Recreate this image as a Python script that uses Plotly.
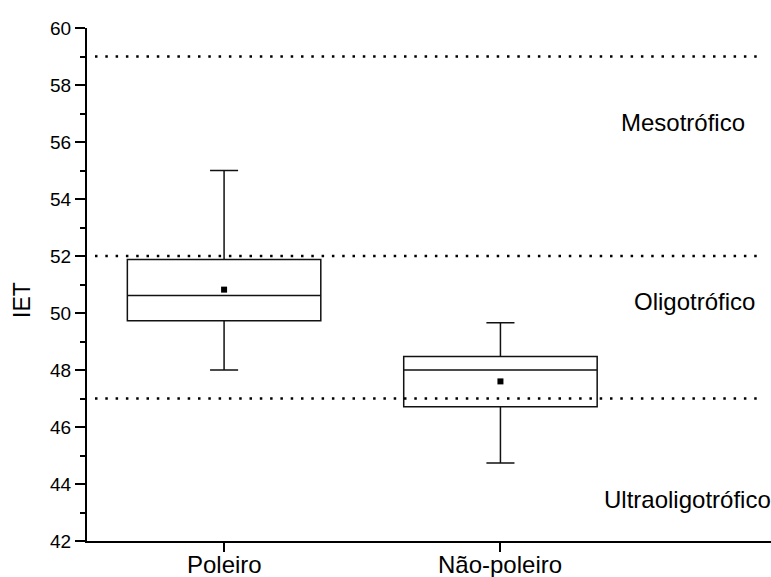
import plotly.graph_objects as go

# Box statistics of IET per site type
categories = ["Poleiro", "Não-poleiro"]
q1 = [49.73, 46.71]
median = [50.61, 48.00]
q3 = [51.88, 48.47]
lower_whisker = [48.00, 44.74]
upper_whisker = [55.00, 49.66]
means = [50.82, 47.60]

# Trophic state class limits and their names
class_limits = [59, 52, 47]
class_names = ["Mesotrófico", "Oligotrófico", "Ultraoligotrófico"]

y_ticks = [42, 44, 46, 48, 50, 52, 54, 56, 58, 60]

FONT = "Arial, Liberation Sans, sans-serif"

fig = go.Figure()

fig.add_trace(go.Box(
    x=categories,
    q1=q1,
    median=median,
    q3=q3,
    lowerfence=lower_whisker,
    upperfence=upper_whisker,
    width=0.7,
    whiskerwidth=0.145,
    boxpoints=False,
    fillcolor="rgba(0,0,0,0)",
    line=dict(color="#111111", width=1.5),
    hoverinfo="skip",
    showlegend=False,
))

fig.add_trace(go.Scatter(
    x=categories,
    y=means,
    mode="markers",
    marker=dict(symbol="square", size=6, color="black"),
    showlegend=False,
    hoverinfo="skip",
))

# Dotted class limits
for lim in class_limits:
    fig.add_shape(
        type="line", xref="paper", yref="y",
        x0=0.0117, x1=0.987, y0=lim, y1=lim,
        line=dict(color="black", width=2.5, dash="2.5px,7.8px"),
        layer="above",
    )

# Class names placed inside their bands
label_pos = [(1.659, 56.70), (1.703, 50.39), (1.676, 43.44)]
for name, (lx, ly) in zip(class_names, label_pos):
    fig.add_annotation(
        x=lx, y=ly, xref="x", yref="y", text=name, showarrow=False,
        font=dict(family=FONT, size=24, color="black"),
        xanchor="center", yanchor="middle",
    )

# Category names under the x axis ticks
for cat in categories:
    fig.add_annotation(
        x=cat, y=0, xref="x", yref="paper", text=cat, showarrow=False,
        font=dict(family=FONT, size=24, color="black"),
        xanchor="center", yanchor="middle", yshift=-23,
    )

# Y axis title
fig.add_annotation(
    x=-87 / 684 + 22 / 684, y=(541 - 300) / 513, xref="paper", yref="paper",
    text="IET", textangle=-90, showarrow=False,
    font=dict(family=FONT, size=23, color="black"),
    xanchor="center", yanchor="middle",
)

fig.update_layout(
    width=771, height=577,
    margin=dict(l=87, r=0, t=28, b=36, autoexpand=False),
    paper_bgcolor="white", plot_bgcolor="white",
    font=dict(family=FONT, color="black"),
    showlegend=False,
)

fig.update_xaxes(
    type="category",
    range=[-0.496, 1.979],
    tickvals=categories,
    showticklabels=False,
    showline=True, linecolor="black", linewidth=2,
    ticks="outside", ticklen=9, tickwidth=2, tickcolor="black",
    showgrid=False, zeroline=False, mirror=False,
)

fig.update_yaxes(
    range=[42, 60],
    tickvals=y_ticks,
    showline=True, linecolor="black", linewidth=2,
    ticks="outside", ticklen=10, tickwidth=2, tickcolor="black",
    tickfont=dict(family=FONT, size=19, color="black"),
    minor=dict(dtick=1, ticks="outside", ticklen=5, tickwidth=2, tickcolor="black", showgrid=False),
    showgrid=False, zeroline=False, mirror=False,
)

fig.write_html("out.html")
